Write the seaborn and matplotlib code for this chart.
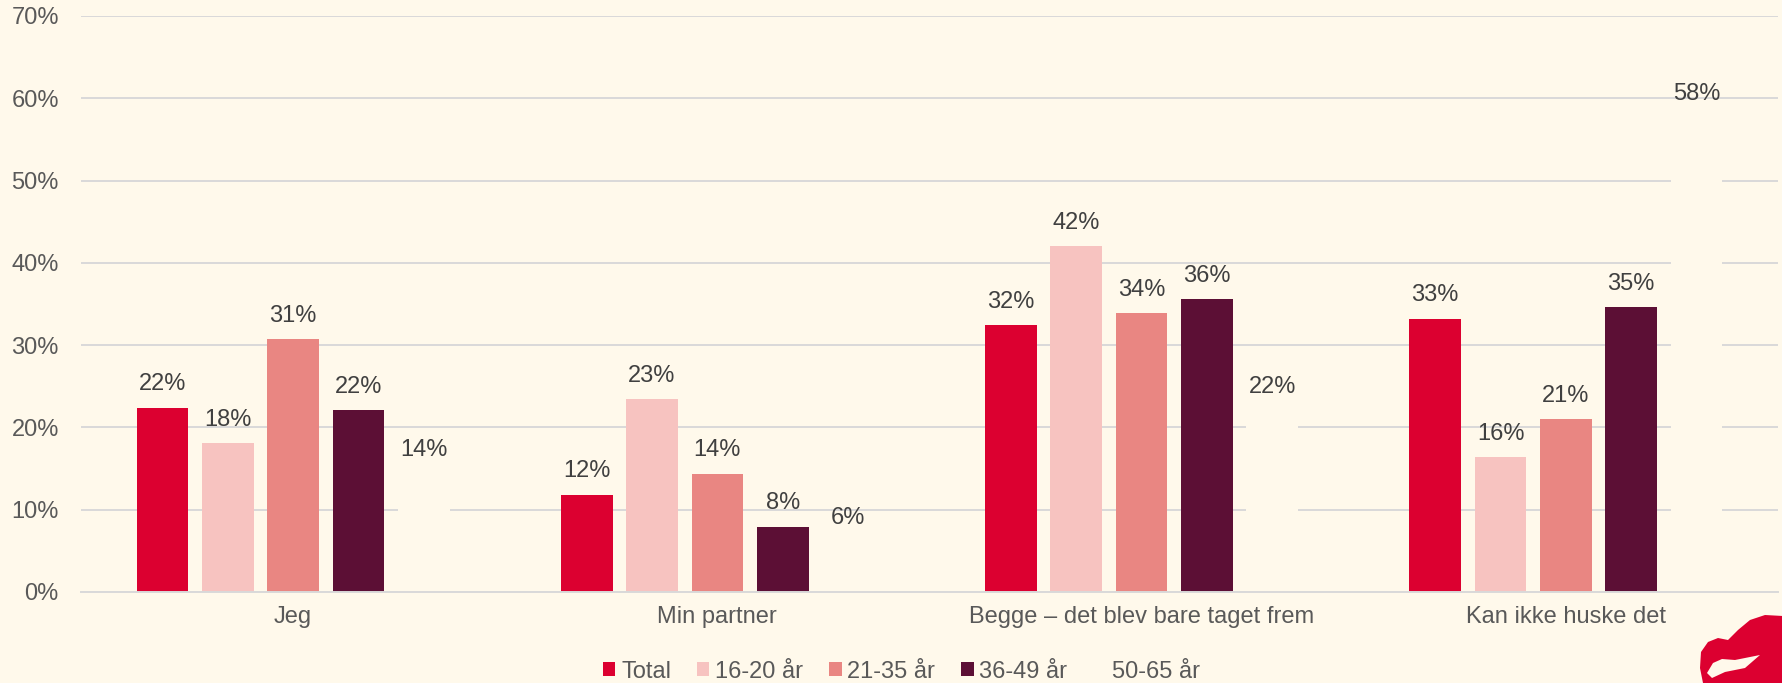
import matplotlib
matplotlib.use("Agg")
import matplotlib.pyplot as plt
import seaborn as sns
import pandas as pd
from matplotlib.patches import Polygon, Patch

# ---- data ----
categories = ["Jeg", "Min partner", "Begge – det blev bare taget frem", "Kan ikke huske det"]
groups = ["Total", "16-20 år", "21-35 år", "36-49 år", "50-65 år"]
total = [22.4, 11.8, 32.4, 33.2]
age_16_20 = [18.1, 23.4, 42.0, 16.4]
age_21_35 = [30.7, 14.4, 33.9, 21.0]
age_36_49 = [22.1, 7.9, 35.6, 34.6]
age_50_65 = [14.4, 6.1, 22.1, 57.7]
y_ticks = [0, 10, 20, 30, 40, 50, 60, 70]

BG = "#FFF9EB"
colors = ["#DC0030", "#F7C3C0", "#E98682", "#5C0F35", BG]

series = [total, age_16_20, age_21_35, age_36_49, age_50_65]
rows = []
for g, vals in zip(groups, series):
    for c, v in zip(categories, vals):
        rows.append({"category": c, "group": g, "value": v})
df = pd.DataFrame(rows)

sns.set_theme(style="white")
plt.rcParams["font.family"] = ["Liberation Sans", "DejaVu Sans"]
plt.rcParams["font.size"] = 17

fig = plt.figure(figsize=(17.83, 6.83), dpi=100, facecolor=BG)
ax = fig.add_axes([81 / 1783, 1 - 592 / 683, (1778 - 81) / 1783, (592 - 16) / 683])
ax.set_facecolor(BG)

sns.barplot(data=df, x="category", y="value", hue="group", order=categories,
            hue_order=groups, palette=colors, width=0.77, gap=0.21,
            saturation=1, errorbar=None, ax=ax, legend=True, linewidth=0)

for cont in ax.containers:
    ax.bar_label(cont, fmt="%.0f%%", padding=9, fontsize=17, color="#404040")

ax.set_ylim(0, 70)
ax.set_xlim(-0.5, len(categories) - 0.5)
ax.set_yticks(y_ticks)
ax.set_yticklabels([f"{t}%" for t in y_ticks])
ax.set_xlabel("")
ax.set_ylabel("")
ax.yaxis.grid(True, color="#D9D9D9", linewidth=1.4)
ax.set_axisbelow(True)
for s in ["top", "right", "left"]:
    ax.spines[s].set_visible(False)
ax.spines["bottom"].set_color("#D9D9D9")
ax.spines["bottom"].set_linewidth(1.4)
ax.spines["bottom"].set_zorder(5)
ax.tick_params(axis="x", length=0, pad=10, labelsize=17, labelcolor="#595959")
ax.tick_params(axis="y", length=0, pad=16, labelsize=17, labelcolor="#595959")

leg = ax.get_legend()
if leg is not None:
    leg.remove()
handles = [Patch(facecolor=c, edgecolor="none") for c in colors]
fig.legend(handles, groups, loc="center", bbox_to_anchor=(0.5055, 0.0165), ncol=5,
           frameon=False, fontsize=17, handlelength=0.52, handleheight=0.52,
           handletextpad=0.25, columnspacing=1.1, labelcolor="#595959",
           borderaxespad=0, borderpad=0)

# decorative logo (bottom-right corner)
def px(pts):
    return [(x / 1783, 1 - y / 683) for x, y in pts]

flame = Polygon(px([(1703, 683), (1700, 668), (1701, 652), (1708, 642), (1718, 638),
                    (1728, 640), (1738, 630), (1750, 620), (1765, 615), (1783, 616),
                    (1783, 683)]), closed=True, facecolor="#DC0030", edgecolor="none",
                transform=fig.transFigure)
fig.add_artist(flame)
streak = Polygon(px([(1707, 673), (1713, 663), (1722, 659), (1735, 660), (1760, 655),
                     (1745, 668), (1725, 672), (1712, 678)]), closed=True,
                 facecolor=BG, edgecolor="none", transform=fig.transFigure)
fig.add_artist(streak)

fig.savefig("out.png", dpi=100, facecolor=BG)
